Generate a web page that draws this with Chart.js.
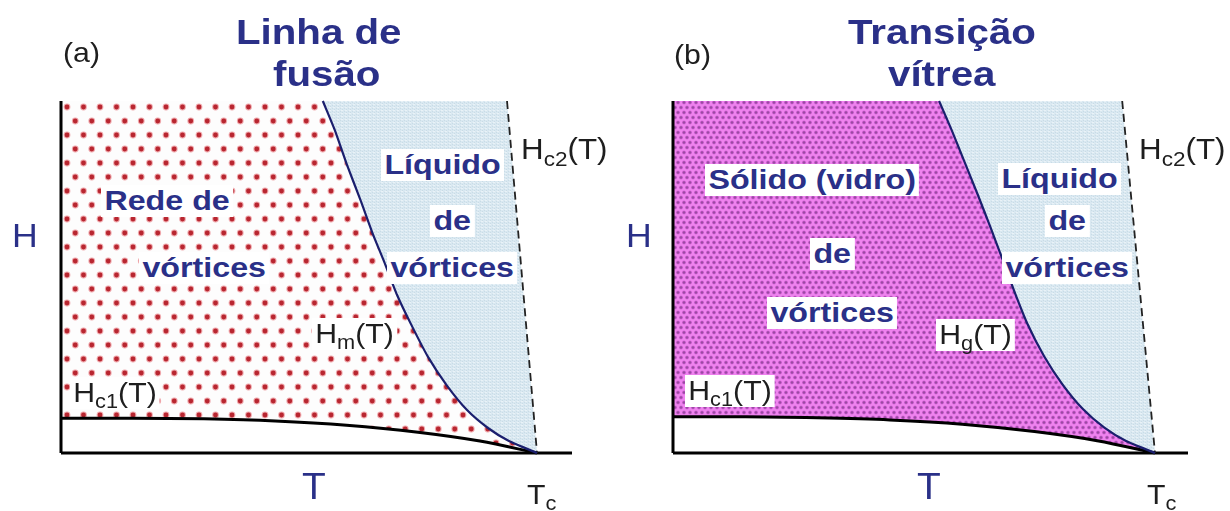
<!DOCTYPE html>
<html><head><meta charset="utf-8">
<script src="https://cdn.jsdelivr.net/npm/chart.js@4.4.1/dist/chart.umd.min.js"></script>
<style>
html,body{margin:0;padding:0;background:#fff;width:1230px;height:511px;overflow:hidden;}
#wrap{position:relative;width:1230px;height:511px;}
canvas{position:absolute;top:0;}
.l{position:absolute;white-space:nowrap;line-height:1;font-family:'Liberation Sans',Arial,sans-serif;transform-origin:0 0;}
.b{font-weight:bold;color:#2a3088;transform:scaleX(1.15);}
.r{color:#1e1e1e;transform:scaleX(1.08);}
.ax{color:#2a3088;}
.w{background:#fff;padding:2px 3px;}
.l sub{font-size:0.72em;vertical-align:-0.32em;line-height:0;}
</style></head>
<body><div id="wrap">
<canvas id="ca" width="615" height="511" style="left:0"></canvas>
<canvas id="cb" width="615" height="511" style="left:615px"></canvas>

<!-- panel (a) -->
<div class="l r" style="left:63px;top:39px;font-size:28px">(a)</div>
<div class="l b" style="left:236px;top:14px;font-size:35px">Linha de</div>
<div class="l b" style="left:273px;top:56px;font-size:35px">fusão</div>
<div class="l r ax" style="left:12px;top:219px;font-size:33px">H</div>
<div class="l r ax" style="left:302px;top:469px;font-size:36px">T</div>
<div class="l r" style="left:527px;top:481px;font-size:28px">T<sub>c</sub></div>
<div class="l r" style="left:521px;top:135px;font-size:29px">H<sub>c2</sub>(T)</div>
<div class="l b w" style="left:381px;top:149px;font-size:28px">Líquido</div>
<div class="l b w" style="left:430px;top:205px;font-size:28px">de</div>
<div class="l b w" style="left:387px;top:252px;font-size:28px">vórtices</div>
<div class="l b w" style="left:101px;top:185px;font-size:28px">Rede de</div>
<div class="l b w" style="left:139px;top:252px;font-size:28px">vórtices</div>
<div class="l r w" style="left:312px;top:318px;font-size:28px">H<sub>m</sub>(T)</div>
<div class="l r w" style="left:70px;top:377px;font-size:28px">H<sub>c1</sub>(T)</div>

<!-- panel (b) -->
<div class="l r" style="left:674px;top:41px;font-size:28px">(b)</div>
<div class="l b" style="left:848px;top:14px;font-size:35px">Transição</div>
<div class="l b" style="left:888px;top:56px;font-size:35px">vítrea</div>
<div class="l r ax" style="left:626px;top:219px;font-size:33px">H</div>
<div class="l r ax" style="left:917px;top:469px;font-size:36px">T</div>
<div class="l r" style="left:1147px;top:481px;font-size:28px">T<sub>c</sub></div>
<div class="l r" style="left:1139px;top:135px;font-size:29px">H<sub>c2</sub>(T)</div>
<div class="l b w" style="left:998px;top:163px;font-size:28px">Líquido</div>
<div class="l b w" style="left:1045px;top:205px;font-size:28px">de</div>
<div class="l b w" style="left:1002px;top:252px;font-size:28px">vórtices</div>
<div class="l b w" style="left:705px;top:164px;font-size:28px">Sólido (vidro)</div>
<div class="l b w" style="left:810px;top:238px;font-size:28px">de</div>
<div class="l b w" style="left:767px;top:297px;font-size:28px">vórtices</div>
<div class="l r w" style="left:936px;top:319px;font-size:28px">H<sub>g</sub>(T)</div>
<div class="l r w" style="left:685px;top:375px;font-size:28px">H<sub>c1</sub>(T)</div>
</div>
<script>
// ---- data (T in units of Tc, H in units of the top of the plotted H range) ----
const H_TOP = 1;
const T_END_A = 1.0735;
const T_END_B = 1.0685;

// panel (a): melting line Hm(T)
const meltT = [0.550,0.575,0.601,0.629,0.656,0.679,0.706,0.736,0.771,0.810,0.853,0.897,0.941,1.0];
const meltH = [1.0,0.918,0.818,0.719,0.619,0.543,0.449,0.364,0.273,0.193,0.122,0.071,0.034,0];
// panel (a): lower critical field Hc1(T)
const hc1T_a = [0,0.15,0.30,0.45,0.60,0.75,0.88,1];
const hc1H_a = [0.099,0.099,0.097,0.091,0.079,0.059,0.034,0];
// panel (a): upper critical field Hc2(T)
const hc2T_a = [0.937,1];
const hc2H_a = [1,0];

// panel (b): glass line Hg(T)
const glassT = [0.552,0.578,0.604,0.632,0.659,0.681,0.708,0.736,0.770,0.808,0.851,0.895,0.940,1.0];
const glassH = [1.0,0.918,0.830,0.735,0.640,0.560,0.460,0.365,0.275,0.195,0.124,0.072,0.034,0];
// panel (b): Hc1(T)
const hc1T_b = [0,0.15,0.30,0.45,0.60,0.75,0.88,1];
const hc1H_b = [0.103,0.103,0.100,0.094,0.082,0.061,0.035,0];
// panel (b): Hc2(T)
const hc2T_b = [0.932,1];
const hc2H_b = [1,0];

// ---- helpers ----
const pts = (T,H) => T.map((t,i)=>({x:t,y:H[i]}));

function tile(w,h,bg,dots,r,col,halo,haloR){
  const c=document.createElement('canvas'); c.width=w; c.height=h;
  const g=c.getContext('2d');
  g.fillStyle=bg; g.fillRect(0,0,w,h);
  for(const [x,y] of dots){
    for(const dx of [-w,0,w]) for(const dy of [-h,0,h]){
      if(halo){g.fillStyle=halo; g.beginPath(); g.arc(x+dx,y+dy,haloR,0,7); g.fill();}
      g.fillStyle=col; g.beginPath(); g.arc(x+dx,y+dy,r,0,7); g.fill();
    }
  }
  return c;
}
function pattern(c,ox,oy){
  const p=c.getContext('2d').createPattern(c,'repeat');
  p.setTransform(new DOMMatrix().translate(ox,oy));
  return p;
}
const redDots = pattern(tile(33,28,'#fdfdfd',[[4,4],[20.5,4],[12.25,18],[28.75,18]],2.4,'#b82630','rgba(235,140,145,0.75)',3.4),63,103);
const liquid = (()=>{
  const c=document.createElement('canvas'); c.width=4; c.height=3; const g=c.getContext('2d');
  g.fillStyle='#d9e8f1'; g.fillRect(0,0,4,3);
  g.fillStyle='#c9dce6'; g.fillRect(0,0,1,1); g.fillRect(2,1,1,1);
  g.fillStyle='#e9f2f7'; g.fillRect(1,2,2,1);
  return pattern(c,0,0);
})();
const magenta = pattern(tile(12,10,'#ee84ee',[[3,2.5],[9,2.5],[0,7.5],[6,7.5]],1.35,'#9a4aa2','rgba(205,90,210,0.8)',2),0,0);

function build(id, lineT, lineH, c1T, c1H, c2T, c2H, tEnd, padL, padR, solidFill){
  const line = pts(lineT,lineH);
  const c1 = pts(c1T,c1H);
  const c2 = pts(c2T,c2H);
  // solid region polygon: top-left corner -> transition line -> Hc1 back to T=0
  const solidPoly = [{x:0,y:H_TOP}].concat(line, c1.slice().reverse());
  // liquid region polygon: transition line -> Hc2 back up to the top
  const liquidPoly = line.concat(c2.slice().reverse().slice(1));
  new Chart(document.getElementById(id), {
    type:'scatter',
    data:{datasets:[
      {data:line, showLine:true, borderColor:'#1b1f6e', borderWidth:2.2, tension:0.2, fill:false},
      {data:c1, showLine:true, borderColor:'#000', borderWidth:3, cubicInterpolationMode:'monotone', fill:false},
      {data:c2, showLine:true, borderColor:'#222', borderWidth:1.8, borderDash:[8,5], fill:false},
      {data:[{x:0,y:0},{x:tEnd,y:0}], showLine:true, borderColor:'#000', borderWidth:3, fill:false},
      {data:[{x:0,y:0},{x:0,y:H_TOP}], showLine:true, borderColor:'#000', borderWidth:3, fill:false},
      {data:solidPoly, showLine:true, borderColor:'rgba(0,0,0,0)', borderWidth:0, tension:0, fill:'shape', backgroundColor:solidFill},
      {data:liquidPoly, showLine:true, borderColor:'rgba(0,0,0,0)', borderWidth:0, tension:0, fill:'shape', backgroundColor:liquid}
    ]},
    options:{
      responsive:false, animation:false, devicePixelRatio:1,
      layout:{padding:{left:padL,right:padR,top:101,bottom:58}},
      elements:{point:{radius:0,hoverRadius:0}},
      plugins:{legend:{display:false},tooltip:{enabled:false},title:{display:false}},
      events:[],
      scales:{
        x:{type:'linear',min:0,max:tEnd,display:false},
        y:{type:'linear',min:0,max:H_TOP,display:false}
      },
      clip:false
    }
  });
}
build('ca', meltT, meltH, hc1T_a, hc1H_a, hc2T_a, hc2H_a, T_END_A, 61, 43, redDots);
build('cb', glassT, glassH, hc1T_b, hc1H_b, hc2T_b, hc2H_b, T_END_B, 58, 42, magenta);
</script>
</body></html>
